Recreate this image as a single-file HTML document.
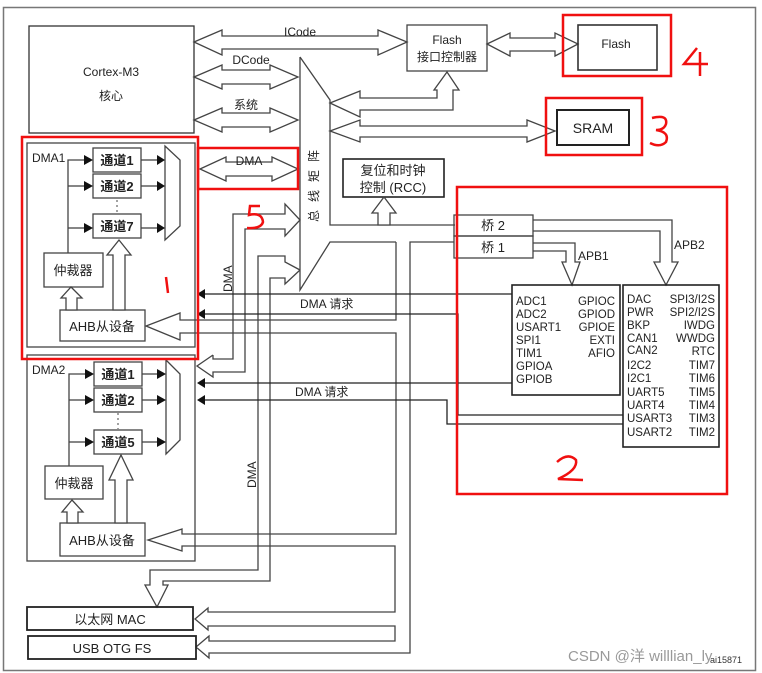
<!DOCTYPE html>
<html><head><meta charset="utf-8"><style>
html,body{margin:0;padding:0;background:#fff;}
svg{display:block;}
text{font-family:"Liberation Sans","Noto Sans CJK SC",sans-serif;fill:#222;}
</style></head><body>
<svg width="762" height="673" viewBox="0 0 762 673" xmlns="http://www.w3.org/2000/svg">
<rect x="0" y="0" width="762" height="673" fill="#fff"/>
<rect x="3.5" y="7.5" width="752" height="663" fill="none" stroke="#777" stroke-width="1.5"/>
<g fill="none" stroke="#444" stroke-width="1.3">
<rect x="29" y="26" width="165" height="107" stroke="#333"/>
<polygon fill="#fff" points="194,42 222,30 222,36 378,36 378,30 407,42 378,55 378,49 222,49 222,55"/>
<polygon fill="#fff" points="194,77 222,65 222,70 270,70 270,65 298,77 270,89 270,84 222,84 222,89"/>
<polygon fill="#fff" points="194,120 222,108 222,113 270,113 270,108 298,120 270,132 270,127 222,127 222,132"/>
<polygon fill="#fff" points="200,169 226,157 226,162 272,162 272,157 298,169 272,181 272,176 226,176 226,181"/>
<polyline points="300,57 300,290 330,242 396,242"/>
<polyline points="300,57 330,100 330,225 455,225"/>
<rect x="407" y="25" width="80" height="46"/>
<polygon fill="#fff" points="487,44 510,33 510,38 555,38 555,33 578,44 555,56 555,51 510,51 510,56"/>
<rect x="578" y="25" width="79" height="45" stroke="#333" stroke-width="1.6"/>
<polygon fill="#fff" points="330,103 360,91 360,98 437,98 437,90 434,90 447,72 459,90 453,90 453,110 360,110 360,117"/>
<polygon fill="#fff" points="330,131 360,120 360,126 527,126 527,120 555,131 527,142 527,137 360,137 360,142"/>
<rect x="557" y="110" width="72" height="35" stroke="#222" stroke-width="2"/>
<rect x="343" y="159" width="101" height="38" stroke="#222" stroke-width="1.6"/>
<polygon fill="#fff" points="384,197 396,213 390,213 390,225 378,225 378,213 372,213"/>
<rect x="454" y="215" width="79" height="21"/>
<rect x="454" y="236" width="79" height="22"/>
<polyline points="533,220 672,220 672,262 678,262 666,285 654,262 660,262 660,231 533,231"/>
<polyline points="533,243 575,243 575,262 580,262 572,285 562,262 566,262 566,251 533,251"/>
<rect x="512" y="285" width="108" height="110" stroke="#222" stroke-width="1.6"/>
<rect x="623" y="285" width="96" height="162" stroke="#222" stroke-width="1.6"/>
<polyline points="396,242 396,320 180,320 180,313 146,326 180,340 180,333 396,333 396,534 182,534 182,529 148,540 182,551 182,546 395,546 395,612 208,612 208,608 195,619 208,630 208,626 395,626 395,641 209,641 209,636 196,647 209,658 209,653 410,653 410,242 454,242"/>
<polyline points="213,355 197,366 213,377 213,372 245,372 245,229 285,229 285,236 300,220 285,204 285,214 233,214 233,359 213,359 213,355"/>
<polyline points="300,270 285,262 285,256 258,256 258,570 150,570 150,585 145,585 157,607 168,585 163,585 163,581 270,581 270,278 285,278 285,284 300,270"/>
<rect x="27" y="143" width="168" height="204"/>
<rect x="93" y="148" width="48" height="24"/>
<rect x="93" y="174" width="48" height="24"/>
<rect x="93" y="214" width="48" height="24"/>
<polygon points="165,146 180,160 180,226 165,240"/>
<rect x="44" y="253" width="59" height="34"/>
<rect x="60" y="310" width="85" height="31"/>
<polyline points="68,253 68,160 84,160"/><polyline points="68,186 84,186"/><polyline points="68,228 84,228"/>
<polyline points="141,160 157,160"/><polyline points="141,186 157,186"/><polyline points="141,228 157,228"/>
<polygon fill="#fff" points="113,310 113,255 107,255 119,240 131,255 125,255 125,310"/>
<polygon fill="#fff" points="66,310 66,298 61,298 71,287 82,298 77,298 77,310"/>
<rect x="27" y="355" width="168" height="206"/>
<rect x="94" y="362" width="48" height="24"/>
<rect x="94" y="388" width="48" height="24"/>
<rect x="94" y="430" width="48" height="24"/>
<polygon points="166,360 180,374 180,440 166,454"/>
<rect x="45" y="466" width="58" height="33"/>
<rect x="60" y="523" width="85" height="33"/>
<polyline points="69,466 69,374 85,374"/><polyline points="69,400 85,400"/><polyline points="69,442 85,442"/>
<polyline points="142,374 157,374"/><polyline points="142,400 157,400"/><polyline points="142,442 157,442"/>
<polygon fill="#fff" points="115,523 115,480 109,480 121,455 133,480 127,480 127,523"/>
<polygon fill="#fff" points="67,523 67,512 62,512 72,500 83,512 78,512 78,523"/>
<rect x="27" y="607" width="166" height="23" stroke="#222" stroke-width="1.8"/>
<rect x="28" y="636" width="168" height="23" stroke="#222" stroke-width="1.8"/>
</g>
<g fill="none" stroke="#222" stroke-width="1.3">
<polyline points="203,294 512,294"/>
<polyline points="203,314 458,314 458,415 623,415"/>
<polyline points="203,383 512,383"/>
<polyline points="203,400 447,400 447,424 623,424"/>
</g>
<g fill="#111">
<polygon points="197,294 205,289 205,299"/><polygon points="197,314 205,309 205,319"/>
<polygon points="197,383 205,378 205,388"/><polygon points="197,400 205,395 205,405"/>
<polygon points="165,160 157,155 157,165"/><polygon points="165,186 157,181 157,191"/><polygon points="165,228 157,223 157,233"/>
<polygon points="93,160 84,155 84,165"/><polygon points="93,186 84,181 84,191"/><polygon points="93,228 84,223 84,233"/>
<polygon points="166,374 157,369 157,379"/><polygon points="166,400 157,395 157,405"/><polygon points="166,442 157,437 157,447"/>
<polygon points="94,374 85,369 85,379"/><polygon points="94,400 85,395 85,405"/><polygon points="94,442 85,437 85,447"/>
</g>
<line x1="117" y1="200" x2="117" y2="213" stroke="#444" stroke-dasharray="2,3"/>
<line x1="118" y1="413" x2="118" y2="429" stroke="#444" stroke-dasharray="2,3"/>
<g font-size="12">
<text x="111" y="76" text-anchor="middle">Cortex-M3</text>
<text x="111" y="100" text-anchor="middle">核心</text>
<text x="300" y="36" text-anchor="middle">ICode</text>
<text x="251" y="64" text-anchor="middle">DCode</text>
<text x="246" y="109" text-anchor="middle">系统</text>
<text x="249" y="165" text-anchor="middle">DMA</text>
<text x="447" y="44" text-anchor="middle">Flash</text>
<text x="447" y="61" text-anchor="middle">接口控制器</text>
<text x="616" y="48" text-anchor="middle">Flash</text>
<text x="593" y="133" text-anchor="middle" font-size="14">SRAM</text>
<text x="393" y="175" text-anchor="middle" font-size="13">复位和时钟</text>
<text x="393" y="192" text-anchor="middle" font-size="13">控制 (RCC)</text>
<text x="493" y="230" text-anchor="middle" font-size="13">桥  2</text>
<text x="493" y="252" text-anchor="middle" font-size="13">桥  1</text>
<text x="578" y="260">APB1</text>
<text x="674" y="249">APB2</text>
<text transform="translate(318,222) rotate(-90)" font-size="12" letter-spacing="8">总线矩阵</text>
<text x="300" y="308">DMA  请求</text>
<text x="295" y="396">DMA 请求</text>
<text transform="translate(232,292) rotate(-90)">DMA</text>
<text transform="translate(256,488) rotate(-90)">DMA</text>
<text x="32" y="162">DMA1</text>
<text x="32" y="374">DMA2</text>
<g font-weight="bold" font-size="13">
<text x="117" y="165" text-anchor="middle">通道1</text>
<text x="117" y="191" text-anchor="middle">通道2</text>
<text x="117" y="231" text-anchor="middle">通道7</text>
<text x="118" y="379" text-anchor="middle">通道1</text>
<text x="118" y="405" text-anchor="middle">通道2</text>
<text x="118" y="447" text-anchor="middle">通道5</text>
</g>
<text x="73" y="275" text-anchor="middle" font-size="13">仲裁器</text>
<text x="74" y="488" text-anchor="middle" font-size="13">仲裁器</text>
<text x="102" y="331" text-anchor="middle" font-size="13">AHB从设备</text>
<text x="102" y="545" text-anchor="middle" font-size="13">AHB从设备</text>
<text x="110" y="624" text-anchor="middle" font-size="13">以太网 MAC</text>
<text x="112" y="653" text-anchor="middle" font-size="13">USB OTG FS</text>
</g>
<g font-size="11.5">
<text x="516" y="305">ADC1</text><text x="516" y="318">ADC2</text><text x="516" y="331">USART1</text>
<text x="516" y="344">SPI1</text><text x="516" y="357">TIM1</text><text x="516" y="370">GPIOA</text><text x="516" y="383">GPIOB</text>
<g text-anchor="end"><text x="615" y="305">GPIOC</text><text x="615" y="318">GPIOD</text><text x="615" y="331">GPIOE</text><text x="615" y="344">EXTI</text><text x="615" y="357">AFIO</text></g>
<text x="627" y="303">DAC</text><text x="627" y="316">PWR</text><text x="627" y="329">BKP</text><text x="627" y="342">CAN1</text>
<text x="627" y="354">CAN2</text><text x="627" y="369">I2C2</text><text x="627" y="382">I2C1</text><text x="627" y="396">UART5</text>
<text x="627" y="409">UART4</text><text x="627" y="422">USART3</text><text x="627" y="436">USART2</text>
<g text-anchor="end"><text x="715" y="303">SPI3/I2S</text><text x="715" y="316">SPI2/I2S</text><text x="715" y="329">IWDG</text>
<text x="715" y="342">WWDG</text><text x="715" y="355">RTC</text><text x="715" y="369">TIM7</text><text x="715" y="382">TIM6</text>
<text x="715" y="396">TIM5</text><text x="715" y="409">TIM4</text><text x="715" y="422">TIM3</text><text x="715" y="436">TIM2</text></g>
</g>
<g fill="none" stroke="#f01010" stroke-width="2.5">
<rect x="563" y="15" width="108" height="61"/>
<rect x="546" y="98" width="96" height="57"/>
<rect x="457" y="187" width="270" height="307"/>
<rect x="198" y="148" width="100" height="41"/>
<rect x="22" y="137" width="176" height="222"/>
<path d="M697,48 L684,64 L708,64 M700,52 L700,76"/>
<path d="M652,118 Q668,114 666,124 Q664,130 656,130 Q670,132 666,142 Q660,148 650,143"/>
<path d="M557,462 Q568,452 576,460 Q578,470 558,479 L583,480"/>
<path d="M166,277 L168,293"/>
<path d="M260,206 L250,206 L249,215 Q262,212 263,222 Q261,229 247,228"/>
</g>
<text x="568" y="661" font-size="15" style="fill:#999">CSDN @洋 willlian_ly</text>
<text x="710" y="663" font-size="9" style="fill:#333">ai15871</text>
</svg>
</body></html>
